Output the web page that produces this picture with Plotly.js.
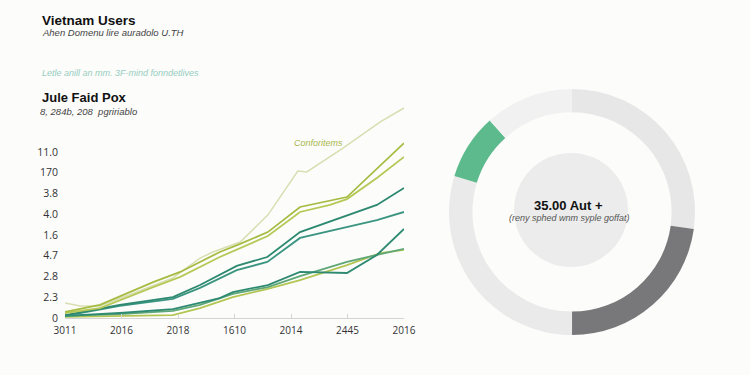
<!DOCTYPE html>
<html>
<head>
<meta charset="utf-8">
<script src="https://cdn.plot.ly/plotly-3.0.1.min.js"></script>
<style>html,body{margin:0;padding:0;background:#fcfcfb;}#chart{width:750px;height:375px;}</style>
</head>
<body>
<div id="chart"></div>
<script>
// X categories (positions 0..6) and their labels
const xTickLabels = ["3011", "2016", "2018", "1610", "2014", "2445", "2016"];
const yTickLabels = ["0", "2.3", "2.8", "4.7", "1.6", "4.0", "3.8", "170", "11.0"];

// Line series (x = position along category axis, y = value)
const paleX = [0, 0.27, 0.62, 1.91, 2.39, 2.62, 3.10, 3.59, 4.12, 4.28, 4.92, 5.58, 6.0];
const paleY = [0.72, 0.58, 0.58, 1.93, 2.89, 3.18, 3.66, 4.96, 7.08, 7.04, 8.19, 9.45, 10.12];

const limeX = [0, 0.62, 1.56, 2.04, 2.74, 3.10, 3.59, 4.16, 4.99, 6.0];
const limeY = [0.29, 0.63, 1.73, 2.22, 3.18, 3.57, 4.14, 5.35, 5.83, 8.43];

const lime2X = [0, 0.62, 1.56, 2.04, 2.74, 3.10, 3.59, 4.16, 4.69, 4.99, 5.52, 6.0];
const lime2Y = [0.24, 0.48, 1.49, 1.98, 2.94, 3.37, 3.95, 5.11, 5.45, 5.73, 6.75, 7.76];

const tealX = [0, 0.97, 1.91, 2.39, 3.04, 3.58, 4.16, 4.99, 5.52, 6.0];
const tealY = [0.14, 0.63, 1.01, 1.59, 2.51, 2.94, 4.14, 4.96, 5.45, 6.27];
const teal2Y = [0.10, 0.58, 0.92, 1.45, 2.31, 2.70, 3.86, 4.39, 4.72, 5.11];

const tealLowX = [0, 0.97, 1.91, 2.39, 2.74, 2.97, 3.59, 4.16, 4.99, 5.52, 6.0];
const tealLowY = [0.10, 0.24, 0.43, 0.72, 0.96, 1.25, 1.59, 2.22, 2.17, 3.04, 4.29];

const lowX = [0, 0.97, 1.91, 2.39, 2.97, 3.59, 4.16, 4.99, 5.58, 6.0];
const olivLowY = [0.05, 0.10, 0.14, 0.48, 1.01, 1.40, 1.83, 2.55, 3.13, 3.28];
const greenLowY = [0.10, 0.19, 0.34, 0.63, 1.16, 1.49, 2.02, 2.70, 3.08, 3.33];

// Donut segments (clockwise from 12 o'clock)
const donutLabels = ["A", "B", "C", "D", "E"];
const donutValues = [98, 82, 107, 31, 42];
const donutColors = ["#e7e7e7", "#78787a", "#eaeaea", "#5dba8c", "#f1f1f1"];

function line(x, y, color, w) {
  return {x: x, y: y, type: "scatter", mode: "lines", line: {color: color, width: w || 1.8},
          hoverinfo: "skip", showlegend: false, xaxis: "x", yaxis: "y"};
}

const traces = [
  line(paleX, paleY, "#d9deb2", 1.5),
  line(lowX, olivLowY, "#b3c653"),
  line(lowX, greenLowY, "#5fa777"),
  line(tealLowX, tealLowY, "#2f8a72"),
  line(tealX, teal2Y, "#3a9580"),
  line(tealX, tealY, "#2d8870"),
  line(lime2X, lime2Y, "#b6c957"),
  line(limeX, limeY, "#a5bc42"),
  {
    type: "pie", labels: donutLabels, values: donutValues,
    marker: {colors: donutColors, line: {width: 0}},
    hole: 0.81, sort: false, direction: "clockwise", rotation: 0,
    textinfo: "none", hoverinfo: "skip", showlegend: false,
    domain: {x: [0.5987, 0.9267], y: [0.1067, 0.7627]}
  }
];

const T = "Liberation Sans, Arial, sans-serif";
const layout = {
  width: 750, height: 375,
  margin: {l: 0, r: 0, t: 0, b: 0},
  paper_bgcolor: "#fcfcfb", plot_bgcolor: "rgba(0,0,0,0)",
  showlegend: false,
  xaxis: {
    domain: [65/750, 404/750], range: [0, 6],
    tickvals: [0, 1, 2, 3, 4, 5, 6], ticktext: xTickLabels,
    showgrid: false, zeroline: false,
    showline: true, linecolor: "#d4d4d4", linewidth: 1,
    ticks: "inside", ticklen: 4, tickcolor: "#d4d4d4",
    tickfont: {family: "Open Sans, sans-serif", size: 10, color: "#333"},
    ticklabelstandoff: 3, fixedrange: true
  },
  yaxis: {
    domain: [57/375, 275/375], range: [0, 10.506],
    tickvals: [0, 1, 2, 3, 4, 5, 6, 7, 8], ticktext: yTickLabels,
    showgrid: false, zeroline: false, showline: false, ticks: "",
    tickfont: {family: "Open Sans, sans-serif", size: 10.5, color: "#333"},
    ticklabelstandoff: 6, fixedrange: true
  },
  shapes: [
    {type: "circle", xref: "paper", yref: "paper", layer: "below",
     x0: 514/750, x1: 628/750, y0: (375-267)/375, y1: (375-153)/375,
     fillcolor: "#ececec", line: {width: 0}}
  ],
  annotations: [
    {text: "<b>Vietnam Users</b>", x: 40/750, y: 1-20/375, xref: "paper", yref: "paper", xanchor: "left", yanchor: "middle", showarrow: false, font: {family: T, size: 13.5, color: "#111"}},
    {text: "<i>Ahen Domenu lire auradolo U.TH</i>", x: 40/750, y: 1-33/375, xref: "paper", yref: "paper", xanchor: "left", yanchor: "middle", showarrow: false, font: {family: T, size: 9.5, color: "#444"}},
    {text: "<i>Letle anill an mm. 3F-mind fonndetlives</i>", x: 40/750, y: 1-73/375, xref: "paper", yref: "paper", xanchor: "left", yanchor: "middle", showarrow: false, font: {family: T, size: 9, color: "#96cdbf"}},
    {text: "<b>Jule Faid Pox</b>", x: 40/750, y: 1-98/375, xref: "paper", yref: "paper", xanchor: "left", yanchor: "middle", showarrow: false, font: {family: T, size: 13, color: "#111"}},
    {text: "<i>8, 284b, 208  pgririablo</i>", x: 38/750, y: 1-111/375, xref: "paper", yref: "paper", xanchor: "left", yanchor: "middle", showarrow: false, font: {family: T, size: 9.5, color: "#444"}},
    {text: "<i>Conforitems</i>", x: 292/750, y: 1-143/375, xref: "paper", yref: "paper", xanchor: "left", yanchor: "middle", showarrow: false, font: {family: T, size: 9, color: "#a8b84c"}},
    {text: "<b>35.00 Aut +</b>", x: 568/750, y: 1-205/375, xref: "paper", yref: "paper", xanchor: "center", yanchor: "middle", showarrow: false, font: {family: T, size: 13, color: "#111"}},
    {text: "<i>(reny sphed wnm syple goffat)</i>", x: 569/750, y: 1-218/375, xref: "paper", yref: "paper", xanchor: "center", yanchor: "middle", showarrow: false, font: {family: T, size: 9, color: "#555"}}
  ]
};

Plotly.newPlot("chart", traces, layout, {displayModeBar: false, staticPlot: true});
</script>
</body>
</html>
